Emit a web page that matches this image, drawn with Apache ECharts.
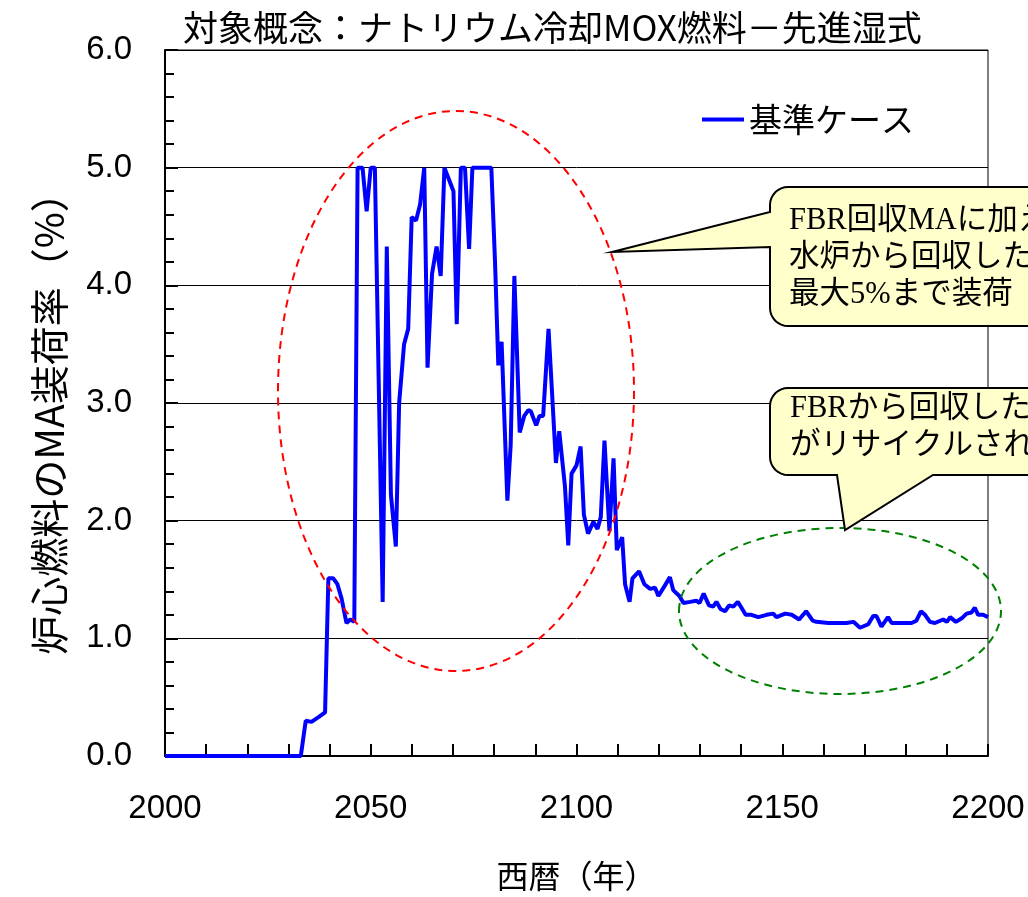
<!DOCTYPE html>
<html>
<head>
<meta charset="utf-8">
<script src="https://cdn.jsdelivr.net/npm/echarts@6/dist/echarts.min.js"></script>
<style>
html,body{margin:0;padding:0;background:#fff;}
#chart{width:1028px;height:897px;}
</style>
</head>
<body>
<div id="chart"></div>
<script>
// ---- data ----
var titleText = '対象概念：ナトリウム冷却MOX燃料－先進湿式';
var seriesName = '基準ケース';
var xAxisName = '西暦（年）';
var yAxisName = '炉心燃料のMA装荷率（%）';
var callout1Lines = ['FBR回収MAに加え', '水炉から回収したMA', '最大5%まで装荷'];
var callout2Lines = ['FBRから回収したMA', 'がリサイクルされる'];

var years = [
  2000, 2033, 2034.2, 2035.6, 2037.3, 2038.9, 2039.7, 2040.9, 2041.9, 2042.9,
  2044.1, 2045.0, 2046.0, 2046.8, 2048.0, 2049.0, 2050.0, 2051.0, 2052.9, 2053.9,
  2054.9, 2056.1, 2056.9, 2058.1, 2059.1, 2059.95, 2061.0, 2062.0, 2063.0, 2063.8,
  2064.9, 2066.0, 2067.0, 2067.9, 2070.1, 2070.9, 2071.9, 2072.9, 2073.9, 2074.7,
  2079.3, 2080.2, 2081.0, 2081.8, 2083.2, 2084.0, 2084.9, 2086.2, 2087.3, 2088.3,
  2088.9, 2090.2, 2091.0, 2091.9, 2093.2, 2095.0, 2095.8, 2097.2, 2098.0, 2098.8,
  2100.0, 2101.0, 2101.8, 2102.8, 2104.1, 2105.1, 2105.9, 2106.8, 2108.0, 2109.0,
  2109.8, 2111.1, 2111.8, 2112.9, 2113.6, 2115.2, 2116.5, 2117.9, 2119.1, 2119.9,
  2121.5, 2122.7, 2123.5, 2125.0, 2126.0, 2127.6, 2129.1, 2129.9, 2130.9, 2132.2,
  2133.2, 2134.0, 2135.0, 2136.1, 2137.1, 2138.1, 2139.2, 2140.1, 2141.1, 2142.5,
  2144.2, 2146.2, 2147.8, 2148.6, 2150.7, 2152.3, 2154.1, 2155.8, 2157.4, 2158.3,
  2161.2, 2165.6, 2167.3, 2168.9, 2170.9, 2172.1, 2172.9, 2174.1, 2175.7, 2176.6,
  2181.4, 2182.6, 2183.7, 2184.7, 2185.9, 2187.1, 2189.1, 2190.0, 2190.8, 2192.2,
  2193.6, 2194.8, 2196.0, 2196.8, 2197.6, 2198.8, 2200
];
var loadRates = [
  0, 0, 0.30, 0.29, 0.33, 0.37, 1.51, 1.51, 1.46, 1.34,
  1.13, 1.16, 1.14, 5.0, 5.0, 4.63, 5.0, 5.0, 1.31, 4.33,
  2.22, 1.78, 3.00, 3.50, 3.63, 4.58, 4.55, 4.69, 5.0, 3.30,
  4.10, 4.33, 4.08, 5.0, 4.80, 3.67, 5.0, 5.0, 4.31, 5.0,
  5.0, 4.20, 3.32, 3.52, 2.17, 2.64, 4.08, 2.75, 2.89, 2.94,
  2.93, 2.81, 2.89, 2.89, 3.63, 2.49, 2.76, 2.29, 1.79, 2.40,
  2.47, 2.63, 2.05, 1.89, 1.99, 1.93, 2.03, 2.68, 1.91, 2.53,
  1.75, 1.86, 1.46, 1.31, 1.51, 1.57, 1.46, 1.42, 1.43, 1.36,
  1.45, 1.52, 1.41, 1.36, 1.30, 1.31, 1.32, 1.30, 1.38, 1.28,
  1.27, 1.31, 1.25, 1.23, 1.28, 1.27, 1.31, 1.26, 1.20, 1.20,
  1.18, 1.20, 1.21, 1.18, 1.21, 1.20, 1.16, 1.23, 1.15, 1.14,
  1.13, 1.13, 1.14, 1.09, 1.12, 1.19, 1.19, 1.10, 1.18, 1.13,
  1.13, 1.15, 1.23, 1.20, 1.14, 1.13, 1.16, 1.14, 1.18, 1.14,
  1.17, 1.21, 1.22, 1.26, 1.20, 1.20, 1.18
];

var xMin = 2000, xMax = 2200, xInterval = 50;
var yMin = 0, yMax = 6, yInterval = 1;

var seriesData = years.map(function (y, i) { return [y, loadRates[i]]; });

var CJK = '"Noto Sans CJK JP", sans-serif';
var LAT = '"Liberation Sans", Arial, sans-serif';
var SERIF = '"Liberation Serif", "Noto Sans CJK JP", serif';

var chart = echarts.init(document.getElementById('chart'), null, {renderer: 'canvas'});

// helper: quarter-circle corner points (decoration geometry only)
function arc(cx, cy, r, a0, a1) {
  var pts = [];
  for (var i = 0; i <= 8; i++) {
    var a = (a0 + (a1 - a0) * i / 8) * Math.PI / 180;
    pts.push([cx + r * Math.cos(a), cy + r * Math.sin(a)]);
  }
  return pts;
}
function calloutTexts(lines, x, y0, lh) {
  return lines.map(function (t, i) {
    return {
      type: 'text', z: 30,
      style: {
        text: t, x: x, y: y0 + i * lh,
        fontSize: 30.5, fontFamily: SERIF, fill: '#000',
        verticalAlign: 'middle', align: 'left'
      }
    };
  });
}

var r = 18;
var c1 = [[1050, 187], [1050, 326]]
  .concat(arc(770 + r, 326 - r, r, 90, 180))
  .concat([[770, 247], [612, 252], [770, 212]])
  .concat(arc(770 + r, 187 + r, r, 180, 270));
var c2 = [[1050, 388], [1050, 475], [933, 475], [845, 530], [837, 475]]
  .concat(arc(770 + r, 475 - r, r, 90, 180))
  .concat(arc(770 + r, 388 + r, r, 180, 270));

var graphics = [
  { type: 'ellipse', z: 20, silent: true,
    shape: {cx: 456, cy: 391, rx: 178, ry: 280},
    style: {fill: 'none', stroke: '#ff0000', lineWidth: 2, lineDash: [8, 6]} },
  { type: 'ellipse', z: 20, silent: true,
    shape: {cx: 840, cy: 611, rx: 161, ry: 83},
    style: {fill: 'none', stroke: '#008000', lineWidth: 2, lineDash: [8, 6]} },
  { type: 'polygon', z: 25, silent: true,
    shape: {points: c1},
    style: {fill: '#ffffcc', stroke: '#000', lineWidth: 2} },
  { type: 'polygon', z: 25, silent: true,
    shape: {points: c2},
    style: {fill: '#ffffcc', stroke: '#000', lineWidth: 2} }
].concat(calloutTexts(callout1Lines, 789, 221, 37))
 .concat(calloutTexts(callout2Lines, 790, 409, 37));

var option = {
  backgroundColor: '#fff',
  animation: false,
  title: {
    text: titleText, left: 178, top: 5,
    textStyle: {fontSize: 35, fontWeight: 'normal', fontFamily: CJK, color: '#000'}
  },
  legend: {
    left: 697, top: 98,
    itemWidth: 42, itemHeight: 4, itemGap: 10,
    textStyle: {fontSize: 33, fontFamily: CJK, color: '#000'},
    data: [{name: seriesName, icon: 'rect'}]
  },
  grid: {left: 165, right: 40, top: 50, bottom: 139, show: true, borderColor: '#000', borderWidth: 1},
  xAxis: {
    type: 'value', min: xMin, max: xMax, interval: xInterval,
    name: xAxisName, nameLocation: 'middle', nameGap: 104,
    nameTextStyle: {fontSize: 32, fontFamily: CJK, color: '#000'},
    axisLine: {show: true, lineStyle: {color: '#000', width: 2}},
    axisTick: {show: true, inside: true, length: 12, lineStyle: {color: '#000', width: 2}},
    minorTick: {show: true, splitNumber: 5, length: 12, lineStyle: {color: '#000', width: 2}},
    axisLabel: {fontSize: 33, fontFamily: LAT, color: '#000', margin: 36,
      formatter: function (v) { return String(v); }},
    splitLine: {show: false}
  },
  yAxis: {
    type: 'value', min: yMin, max: yMax, interval: yInterval,
    name: yAxisName, nameLocation: 'middle', nameGap: 96, nameRotate: 90,
    nameTextStyle: {fontSize: 39, fontFamily: CJK, color: '#000', padding: [0, 22, 0, 0]},
    axisLine: {show: true, lineStyle: {color: '#000', width: 2}},
    axisTick: {show: true, inside: true, length: 13, lineStyle: {color: '#000', width: 2}},
    minorTick: {show: true, splitNumber: 5, length: 9, lineStyle: {color: '#000', width: 2}},
    axisLabel: {fontSize: 33, fontFamily: LAT, color: '#000', margin: 33,
      formatter: function (v) { return v.toFixed(1); }},
    splitLine: {show: true, lineStyle: {color: '#000', width: 1}}
  },
  series: [{
    name: seriesName, type: 'line', data: seriesData,
    symbol: 'none', smooth: false,
    lineStyle: {color: '#0000ff', width: 4},
    itemStyle: {color: '#0000ff'}
  }],
  graphic: graphics
};
chart.setOption(option);
</script>
</body>
</html>
